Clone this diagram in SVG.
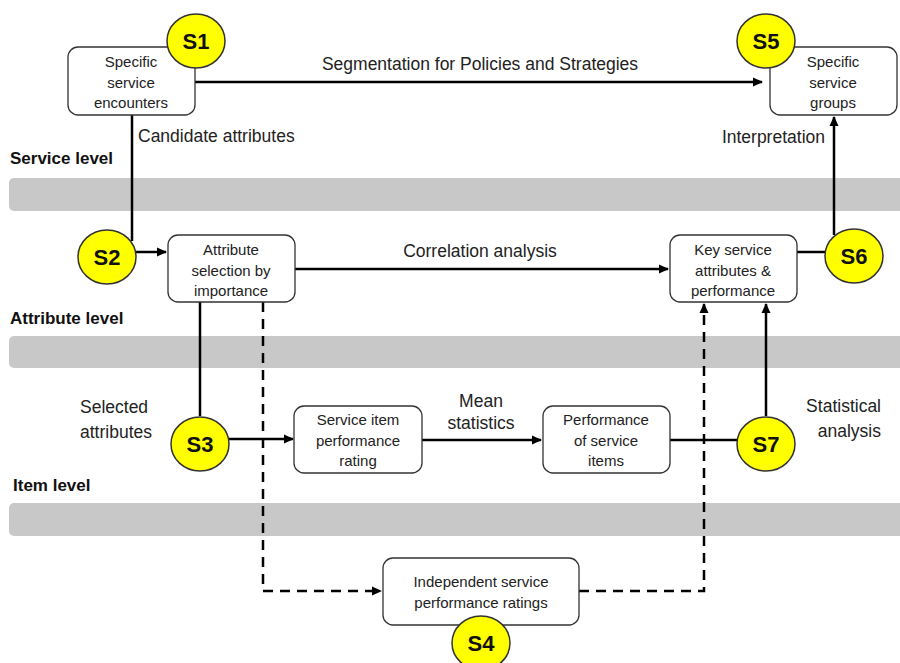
<svg xmlns="http://www.w3.org/2000/svg" width="900" height="663" viewBox="0 0 900 663">
<style>
.band{fill:#c8c8c8}
.box{fill:#fff;stroke:#333;stroke-width:1.3}
.circ{fill:#ffff00;stroke:#333;stroke-width:1.5}
.bt{font-family:"Liberation Sans",Arial,sans-serif;font-size:15px;fill:#222;text-anchor:middle}
.st{font-family:"Liberation Sans",Arial,sans-serif;font-size:22px;font-weight:bold;fill:#111;text-anchor:middle}
.lbl{font-family:"Liberation Sans",Arial,sans-serif;font-size:17.5px;fill:#222}
.lvl{font-family:"Liberation Sans",Arial,sans-serif;font-size:17px;font-weight:bold;fill:#111}
.ln{fill:none;stroke:#000;stroke-width:2.5}
.dash{fill:none;stroke:#000;stroke-width:2.5;stroke-dasharray:10 7}
</style>
<defs>
<marker id="arr" markerWidth="10" markerHeight="10" refX="9" refY="5" orient="auto" markerUnits="userSpaceOnUse">
<path d="M0,0.5 L10,5 L0,9.5 z" fill="#000"/>
</marker>
</defs>
<rect width="900" height="663" fill="#fff"/>
<g id="bands">
<rect class="band" x="9" y="178" width="900" height="33" rx="5"/>
<rect class="band" x="9" y="336" width="900" height="32" rx="5"/>
<rect class="band" x="9" y="503" width="900" height="33" rx="5"/>
<text class="lvl" x="10" y="164">Service level</text>
<text class="lvl" x="10" y="324">Attribute level</text>
<text class="lvl" x="13" y="491">Item level</text>
</g>
<g id="connectors">
<path class="ln" d="M195,82 H762" marker-end="url(#arr)"/>
<path class="ln" d="M132,115 V241"/>
<path class="ln" d="M136,252 H166" marker-end="url(#arr)"/>
<path class="ln" d="M295,269 H668" marker-end="url(#arr)"/>
<path class="ln" d="M200,302 V416"/>
<path class="ln" d="M229,439 H293" marker-end="url(#arr)"/>
<path class="ln" d="M422,440 H541" marker-end="url(#arr)"/>
<path class="ln" d="M670,440 H737"/>
<path class="ln" d="M766,416 V304" marker-end="url(#arr)"/>
<path class="ln" d="M797,252 H825"/>
<path class="ln" d="M834,235 V117" marker-end="url(#arr)"/>
<path class="dash" d="M263,302 V591 H381" marker-end="url(#arr)"/>
<path class="dash" d="M579,591 H704 V304" marker-end="url(#arr)"/>
<text class="lbl" x="480" y="70" text-anchor="middle">Segmentation for Policies and Strategies</text>
<text class="lbl" x="138" y="142">Candidate attributes</text>
<text class="lbl" x="825" y="143" text-anchor="end">Interpretation</text>
<text class="lbl" x="480" y="257" text-anchor="middle">Correlation analysis</text>
<text class="lbl" x="80" y="413">Selected</text>
<text class="lbl" x="80" y="438">attributes</text>
<text class="lbl" x="481" y="407" text-anchor="middle">Mean</text>
<text class="lbl" x="481" y="429" text-anchor="middle">statistics</text>
<text class="lbl" x="881" y="412" text-anchor="end">Statistical</text>
<text class="lbl" x="881" y="437" text-anchor="end">analysis</text>
</g>
<g id="n1">
<rect class="box" x="68" y="47" width="127" height="68" rx="10"/>
<text class="bt" x="131" y="67">Specific</text>
<text class="bt" x="131" y="88">service</text>
<text class="bt" x="131" y="108">encounters</text>
<ellipse class="circ" cx="196" cy="41" rx="29" ry="27"/>
<text class="st" x="196" y="49">S1</text>
</g>
<g id="n5">
<rect class="box" x="770" y="47" width="127" height="68" rx="10"/>
<text class="bt" x="833" y="67">Specific</text>
<text class="bt" x="833" y="88">service</text>
<text class="bt" x="833" y="108">groups</text>
<ellipse class="circ" cx="766" cy="41" rx="29" ry="27"/>
<text class="st" x="766" y="49">S5</text>
</g>
<g id="n2">
<ellipse class="circ" cx="107" cy="257" rx="29" ry="27"/>
<text class="st" x="107" y="265">S2</text>
</g>
<g id="attrsel">
<rect class="box" x="168" y="235" width="127" height="67" rx="10"/>
<text class="bt" x="231" y="255">Attribute</text>
<text class="bt" x="231" y="276">selection by</text>
<text class="bt" x="231" y="296">importance</text>
</g>
<g id="keyattr">
<rect class="box" x="670" y="235" width="127" height="67" rx="10"/>
<text class="bt" x="733" y="255">Key service</text>
<text class="bt" x="733" y="276">attributes &amp;</text>
<text class="bt" x="733" y="296">performance</text>
</g>
<g id="n6">
<ellipse class="circ" cx="854" cy="256" rx="29" ry="27"/>
<text class="st" x="854" y="264">S6</text>
</g>
<g id="n3">
<ellipse class="circ" cx="200" cy="444" rx="29" ry="27"/>
<text class="st" x="200" y="452">S3</text>
</g>
<g id="itemrating">
<rect class="box" x="294" y="406" width="128" height="67" rx="10"/>
<text class="bt" x="358" y="425">Service item</text>
<text class="bt" x="358" y="446">performance</text>
<text class="bt" x="358" y="466">rating</text>
</g>
<g id="perfitems">
<rect class="box" x="543" y="406" width="127" height="67" rx="10"/>
<text class="bt" x="606" y="425">Performance</text>
<text class="bt" x="606" y="446">of service</text>
<text class="bt" x="606" y="466">items</text>
</g>
<g id="n7">
<ellipse class="circ" cx="766" cy="444" rx="29" ry="27"/>
<text class="st" x="766" y="452">S7</text>
</g>
<g id="n4">
<rect class="box" x="383" y="558" width="196" height="67" rx="10"/>
<text class="bt" x="481" y="587">Independent service</text>
<text class="bt" x="481" y="608">performance ratings</text>
<ellipse class="circ" cx="481" cy="643" rx="29" ry="27"/>
<text class="st" x="481" y="651">S4</text>
</g>
</svg>
